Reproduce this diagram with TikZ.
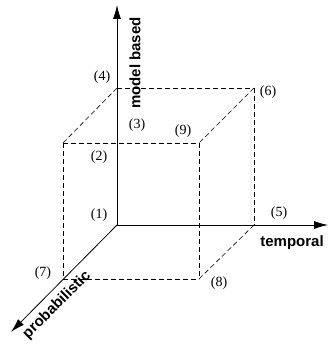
\documentclass[tikz,border=0pt]{standalone}
\usepackage{fontspec}
\setmainfont{Liberation Serif}
\setsansfont{Liberation Sans}
\usetikzlibrary{arrows.meta}
\begin{document}
\begin{tikzpicture}[
    x=1pt, y=1pt,
    every node/.style={font=\fontsize{14}{16}\selectfont, inner sep=0pt},
    axis/.style={line width=0.8pt, -{Latex[length=14pt,width=8pt]}},
    edge/.style={line width=0.6pt, dash pattern=on 5pt off 3pt},
    albl/.style={font=\fontsize{15}{17}\selectfont\sffamily\bfseries},
]
\useasboundingbox (-117,-125) rectangle (212,225);
% corners of the box
\coordinate (o) at (0,0);
\coordinate (c4) at (0,137);
\coordinate (c6) at (137,137);
\coordinate (c2) at (-54,82);
\coordinate (c9) at (82,82);
\coordinate (c5) at (137,0);
\coordinate (c8) at (82,-54);
\coordinate (c7) at (-54,-54);
% axis ends
\coordinate (zend) at (0,220);
\coordinate (xend) at (211,0);
\coordinate (yend) at (-106,-107);
% axes
\draw[axis] (o) -- (zend);
\draw[axis] (o) -- (xend);
\draw[axis] (o) -- (yend);
% dashed box
\draw[edge] (c4) -- (c6);
\draw[edge] (c4) -- (c2);
\draw[edge] (c6) -- (c9);
\draw[edge] (c2) -- (c9);
\draw[edge] (c2) -- (c7);
\draw[edge] (c9) -- (c8);
\draw[edge] (c6) -- (c5);
\draw[edge] (c7) -- (c8);
\draw[edge] (c5) -- (c8);
% point labels
\node (l1) at (-18,10)  {(1)};
\node (l2) at (-18,68)  {(2)};
\node (l3) at (20,100)  {(3)};
\node (l4) at (-15,148) {(4)};
\node (l5) at (162,12)  {(5)};
\node (l6) at (151,133) {(6)};
\node (l7) at (-74,-48) {(7)};
\node (l8) at (102,-58) {(8)};
\node (l9) at (66,94)   {(9)};
% axis labels
\node[albl] (tmp) at (175,-18) {temporal};
\node[albl, rotate=90] (mdl) at (18,162) {model based};
\node[albl, rotate=45] (prb) at (-60,-80) {probabilistic};
\end{tikzpicture}
\end{document}
